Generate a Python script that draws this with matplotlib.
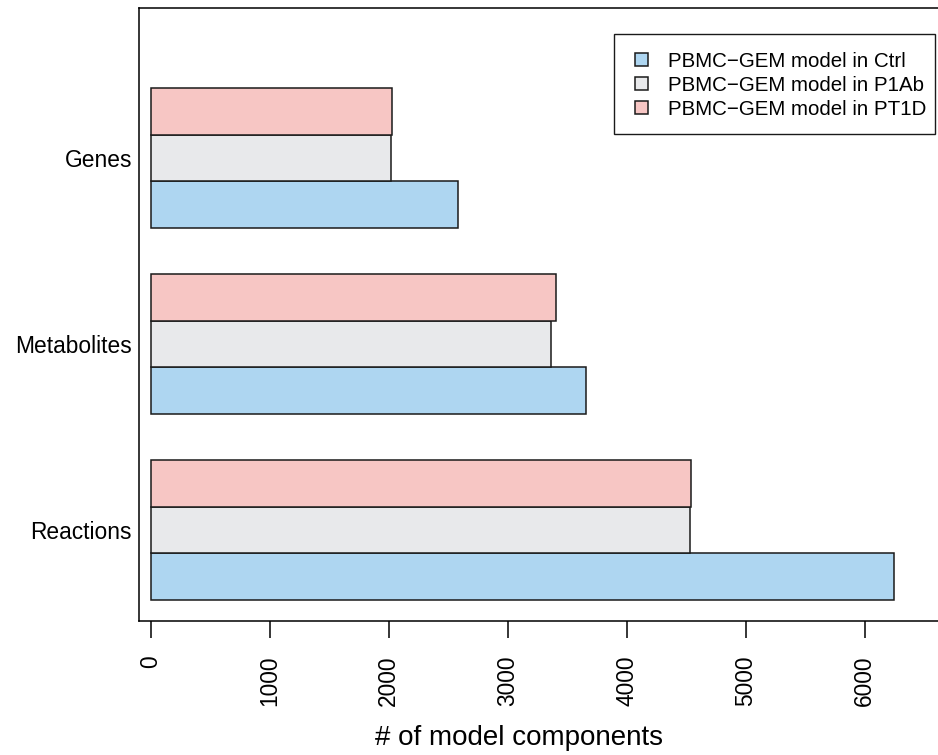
import numpy as np
import matplotlib
matplotlib.use("Agg")
import matplotlib.pyplot as plt
from matplotlib.patches import Rectangle

plt.rcParams["font.family"] = ["Liberation Sans", "DejaVu Sans"]

# data
components = ["Reactions", "Metabolites", "Genes"]
ctrl = [6245, 3661, 2580]
p1ab = [4533, 3365, 2023]
pt1d = [4541, 3409, 2028]

series_names = ["PBMC\u2212GEM model in Ctrl",
                "PBMC\u2212GEM model in P1Ab",
                "PBMC\u2212GEM model in PT1D"]
colors = ["#AED6F1", "#E8E9EB", "#F7C6C4"]

W, H = 938, 755
fig = plt.figure(figsize=(9.38, 7.55), dpi=100)
ax = fig.add_axes([139/W, 134/H, 0.8624, 613/H])

# R barplot style positions: groups of 3 bars, one bar gap between groups
group_start = np.array([1, 5, 9])
handles = []
for i, vals in enumerate([ctrl, p1ab, pt1d]):
    b = ax.barh(group_start + i + 0.5, vals, height=1.0, left=0,
                color=colors[i], edgecolor="#1a1a1a", linewidth=1.1,
                label=series_names[i])
    handles.append(b)

ax.set_ylim(0.549, 13.719)
ax.set_xlim(-97.5, 6700)

ax.set_yticks(group_start + 1.5)
ax.set_yticklabels(components, fontsize=16.4)
ax.tick_params(axis="y", length=0, pad=5)

ax.set_xticks([0, 1000, 2000, 3000, 4000, 5000, 6000])
ax.set_xticklabels(["0", "1000", "2000", "3000", "4000", "5000", "6000"],
                   rotation=90, fontsize=16.4)
ax.tick_params(axis="x", length=12, width=1.1, pad=13, direction="out")

for s in ax.spines.values():
    s.set_linewidth(1.1)

# legend without frame, box drawn separately (R style padding)
leg = ax.legend(handles=handles, loc="upper left",
                bbox_to_anchor=(624.7/W, 1 - 41.5/H), bbox_transform=fig.transFigure,
                fontsize=14.8, handlelength=0.63, handleheight=0.63,
                handletextpad=0.97, labelspacing=0.24, borderpad=0.5,
                borderaxespad=0, frameon=False)
fig.patches.append(Rectangle((614/W, 1 - 134/H), (935 - 614)/W, 100/H,
                             transform=fig.transFigure, fill=False,
                             edgecolor="#1a1a1a", linewidth=1.0, zorder=5))

fig.text(519/W, 0.0139, "# of model components", fontsize=20,
         ha="center", va="baseline")

fig.savefig("out.png", dpi=100)
